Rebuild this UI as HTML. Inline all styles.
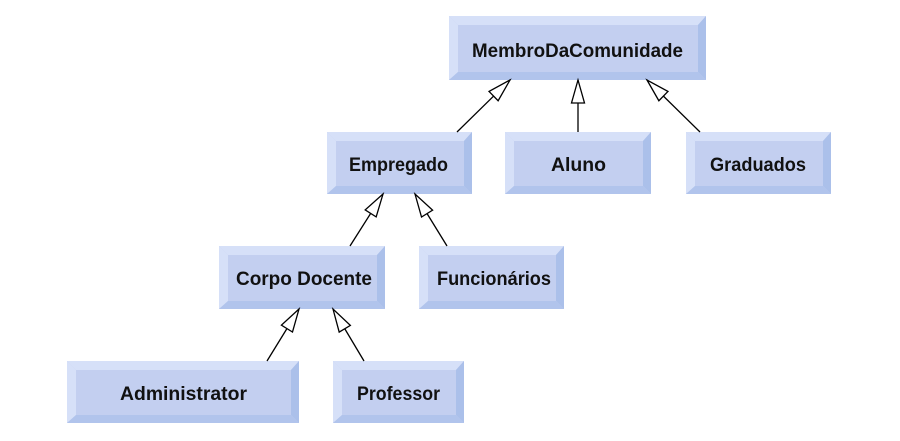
<!DOCTYPE html>
<html>
<head>
<meta charset="utf-8">
<style>
html,body{margin:0;padding:0;background:#fff;}
svg{display:block;}
text{font-family:"Liberation Sans",Arial,sans-serif;font-weight:bold;font-size:19px;fill:#111;}
.l{fill:#d6e0f8;}
.f{fill:#c3cff0;}
.r{fill:#abc0ea;}
.b{fill:#b1c4ec;}
</style>
</head>
<body>
<svg width="900" height="441" viewBox="0 0 900 441" xmlns="http://www.w3.org/2000/svg">
<defs>
<marker id="ah" markerUnits="userSpaceOnUse" viewBox="-25 -8 27 16" markerWidth="27" markerHeight="16" refX="0" refY="0" orient="auto" overflow="visible">
<path d="M0,0 L-23,-6.5 L-23,6.5 Z" fill="#fff" stroke="#000" stroke-width="1.3" stroke-linejoin="miter"/>
</marker>
</defs>

<!-- Box helper: outer x1,y1,x2,y2 ; bevel 9 (left/top) 8 (right/bottom) -->
<!-- MembroDaComunidade 449,16,706,80 -->
<g>
<rect class="f" x="449" y="16" width="257" height="64"/>
<polygon class="l" points="449,16 706,16 698,25 458,25"/>
<polygon class="l" points="449,16 458,25 458,72 449,80"/>
<polygon class="r" points="706,16 706,80 698,72 698,25"/>
<polygon class="b" points="449,80 458,72 698,72 706,80"/>
<text x="577.5" y="57" text-anchor="middle" textLength="211" lengthAdjust="spacingAndGlyphs">MembroDaComunidade</text>
</g>

<!-- Empregado 327,132,472,194 -->
<g>
<rect class="f" x="327" y="132" width="145" height="62"/>
<polygon class="l" points="327,132 472,132 464,141 336,141"/>
<polygon class="l" points="327,132 336,141 336,186 327,194"/>
<polygon class="r" points="472,132 472,194 464,186 464,141"/>
<polygon class="b" points="327,194 336,186 464,186 472,194"/>
<text x="398.5" y="171" text-anchor="middle" textLength="99" lengthAdjust="spacingAndGlyphs">Empregado</text>
</g>

<!-- Aluno 505,132,651,194 -->
<g>
<rect class="f" x="505" y="132" width="146" height="62"/>
<polygon class="l" points="505,132 651,132 643,141 514,141"/>
<polygon class="l" points="505,132 514,141 514,186 505,194"/>
<polygon class="r" points="651,132 651,194 643,186 643,141"/>
<polygon class="b" points="505,194 514,186 643,186 651,194"/>
<text x="578.5" y="171" text-anchor="middle" textLength="55" lengthAdjust="spacingAndGlyphs">Aluno</text>
</g>

<!-- Graduados 686,132,831,194 -->
<g>
<rect class="f" x="686" y="132" width="145" height="62"/>
<polygon class="l" points="686,132 831,132 823,141 695,141"/>
<polygon class="l" points="686,132 695,141 695,186 686,194"/>
<polygon class="r" points="831,132 831,194 823,186 823,141"/>
<polygon class="b" points="686,194 695,186 823,186 831,194"/>
<text x="758" y="171" text-anchor="middle" textLength="96" lengthAdjust="spacingAndGlyphs">Graduados</text>
</g>

<!-- Corpo Docente 219,246,385,309 -->
<g>
<rect class="f" x="219" y="246" width="166" height="63"/>
<polygon class="l" points="219,246 385,246 377,255 228,255"/>
<polygon class="l" points="219,246 228,255 228,301 219,309"/>
<polygon class="r" points="385,246 385,309 377,301 377,255"/>
<polygon class="b" points="219,309 228,301 377,301 385,309"/>
<text x="304" y="285" text-anchor="middle" textLength="136" lengthAdjust="spacingAndGlyphs">Corpo Docente</text>
</g>

<!-- Funcionários 419,246,564,309 -->
<g>
<rect class="f" x="419" y="246" width="145" height="63"/>
<polygon class="l" points="419,246 564,246 556,255 428,255"/>
<polygon class="l" points="419,246 428,255 428,301 419,309"/>
<polygon class="r" points="564,246 564,309 556,301 556,255"/>
<polygon class="b" points="419,309 428,301 556,301 564,309"/>
<text x="494" y="285" text-anchor="middle" textLength="114" lengthAdjust="spacingAndGlyphs">Funcionários</text>
</g>

<!-- Administrator 67,361,299,423 -->
<g>
<rect class="f" x="67" y="361" width="232" height="62"/>
<polygon class="l" points="67,361 299,361 291,370 76,370"/>
<polygon class="l" points="67,361 76,370 76,415 67,423"/>
<polygon class="r" points="299,361 299,423 291,415 291,370"/>
<polygon class="b" points="67,423 76,415 291,415 299,423"/>
<text x="183.5" y="400" text-anchor="middle" textLength="127" lengthAdjust="spacingAndGlyphs">Administrator</text>
</g>

<!-- Professor 333,361,464,423 -->
<g>
<rect class="f" x="333" y="361" width="131" height="62"/>
<polygon class="l" points="333,361 464,361 456,370 342,370"/>
<polygon class="l" points="333,361 342,370 342,415 333,423"/>
<polygon class="r" points="464,361 464,423 456,415 456,370"/>
<polygon class="b" points="333,423 342,415 456,415 464,423"/>
<text x="398.5" y="400" text-anchor="middle" textLength="83" lengthAdjust="spacingAndGlyphs">Professor</text>
</g>

<!-- Connectors -->
<g stroke="#000" stroke-width="1.3" fill="none">
<line x1="457" y1="132" x2="510" y2="80" marker-end="url(#ah)"/>
<line x1="578" y1="132" x2="578" y2="80" marker-end="url(#ah)"/>
<line x1="700" y1="132" x2="647" y2="80" marker-end="url(#ah)"/>
<line x1="350" y1="246" x2="383" y2="194" marker-end="url(#ah)"/>
<line x1="447" y1="246" x2="415" y2="194" marker-end="url(#ah)"/>
<line x1="267" y1="361" x2="299" y2="309" marker-end="url(#ah)"/>
<line x1="364" y1="361" x2="333" y2="309" marker-end="url(#ah)"/>
</g>
</svg>
</body>
</html>
